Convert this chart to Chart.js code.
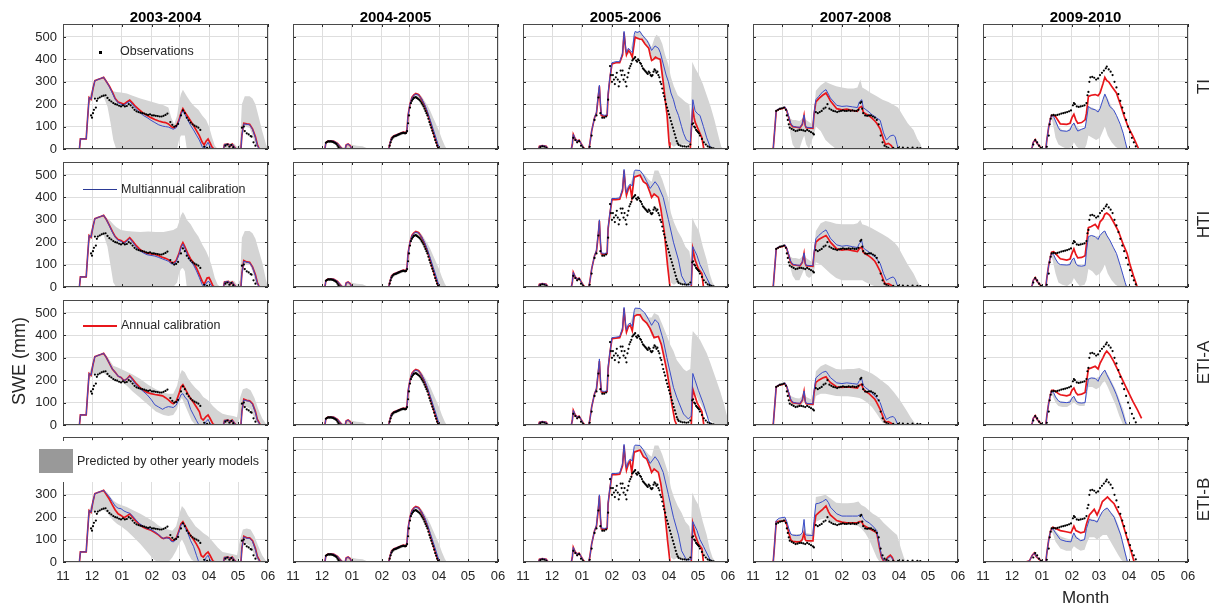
<!DOCTYPE html>
<html><head><meta charset="utf-8">
<script src="https://cdn.jsdelivr.net/npm/chart.js"></script>
<style>html,body{margin:0;padding:0;background:#fff}#wrap{position:relative;width:1220px;height:611px;overflow:hidden}</style>
</head><body><div id="wrap"></div>
<script>
// ---------- tick labels & categories ----------
var monthTicks = [0,30,61,92,120,151,181,212];
var monthLabels = ['11','12','01','02','03','04','05','06'];
var sweTicks = [0,100,200,300,400,500];
var seasons = ['2003-2004','2004-2005','2005-2006','2007-2008','2009-2010'];
var seasonKeys = ['0304','0405','0506','0708','0910'];
var models = ['TI','HTI','ETI-A','ETI-B'];
var modelKeys = ['ti','hti','etia','etib'];

// ---------- observations (day since 1 Nov, SWE mm) ----------
var obs_0304 = [[29,150],[30,140],[31,160],[32,175],[33,225],[34,185],[35,215],[36,225],[38,230],[40,235],[42,238],[44,240],[46,228],[48,218],[50,212],[52,205],[54,200],[56,198],[58,193],[60,190],[62,195],[64,190],[66,192],[68,200],[70,195],[72,185],[74,175],[76,168],[78,165],[80,162],[82,160],[84,158],[86,155],[88,152],[90,155],[92,150],[94,150],[96,148],[98,147],[100,145],[102,145],[104,148],[106,152],[108,158],[111,120],[113,108],[115,100],[117,103],[119,112],[122,150],[124,172],[126,160],[128,140],[130,128],[132,118],[134,110],[136,104],[138,100],[140,95],[142,85],[146,10],[149,5],[152,0],[168,15],[170,20],[172,10],[174,18],[176,8],[178,0],[185,95],[187,100],[188,80],[190,70],[192,65],[194,58],[195,55],[197,30],[199,15],[200,0]];
var obs_0405 = [[34,28],[35,31],[36,33],[37,34],[38,33],[39,34],[40,33],[41,32],[42,30],[43,28],[44,25],[45,22],[46,15],[47,8],[48,3],[49,0],[100,15],[101,30],[102,42],[103,50],[104,55],[105,57],[106,58],[107,60],[108,62],[109,64],[110,66],[111,68],[112,70],[113,71],[114,72],[115,71],[116,70],[117,72],[118,80],[119,115],[120,150],[121,185],[122,205],[123,215],[124,222],[125,228],[126,230],[127,232],[128,228],[129,225],[130,222],[131,218],[132,212],[133,205],[134,198],[135,190],[136,180],[137,170],[138,160],[139,150],[140,135],[141,120],[142,108],[143,95],[144,82],[145,70],[146,55],[147,40],[148,28],[149,15],[150,5],[151,0]];
var obs_0506 = [[16,0],[18,8],[20,12],[22,10],[24,5],[26,0],[52,50],[54,40],[56,30],[58,35],[60,15],[62,5],[69,10],[71,60],[74,130],[76,150],[78,230],[80,160],[82,140],[84,140],[86,145],[88,220],[90,370],[91,330],[92,300],[93,330],[94,310],[95,290],[96,320],[97,340],[98,310],[99,280],[100,300],[101,350],[102,330],[103,350],[104,310],[105,330],[106,300],[107,280],[108,320],[109,340],[110,360],[111,370],[112,380],[113,395],[114,400],[115,405],[116,410],[117,395],[118,390],[119,400],[120,395],[121,385],[122,380],[123,370],[124,360],[125,355],[126,350],[127,345],[128,340],[129,335],[130,345],[131,340],[132,330],[133,325],[134,330],[135,345],[136,355],[137,350],[138,340],[139,345],[140,330],[141,320],[142,300],[143,290],[144,270],[145,250],[146,235],[147,220],[148,200],[149,185],[150,170],[151,155],[152,140],[153,125],[154,110],[155,95],[156,80],[157,65],[158,50],[159,35],[160,25],[161,18],[163,15],[165,12],[167,12],[169,10],[171,12],[173,20],[175,110],[176,115],[177,100],[178,95],[179,85],[180,80],[181,75],[182,70],[183,60],[185,45],[187,30],[189,20],[191,12],[193,8],[195,5],[197,3],[199,0]];
var obs_0708 = [[24,170],[26,175],[28,180],[30,182],[32,185],[34,175],[35,150],[36,130],[37,110],[38,95],[40,90],[42,85],[44,80],[46,82],[48,85],[50,85],[52,83],[54,80],[56,85],[58,80],[60,75],[62,70],[63,65],[65,165],[67,160],[69,165],[71,170],[73,180],[75,185],[77,200],[79,180],[81,175],[83,170],[85,168],[87,165],[89,168],[91,170],[93,172],[95,170],[97,170],[99,172],[101,170],[103,172],[105,170],[107,170],[109,175],[111,205],[112,210],[113,180],[114,160],[116,150],[118,148],[120,150],[122,150],[124,145],[126,140],[128,130],[130,110],[132,60],[134,30],[136,15],[138,10],[140,5],[145,5],[150,5],[155,6],[160,5],[165,6],[170,5],[173,4],[175,0]];
var obs_0910 = [[50,0],[52,20],[54,40],[56,30],[58,15],[60,5],[62,0],[66,10],[68,60],[69,110],[70,135],[71,150],[73,152],[75,150],[77,152],[79,155],[81,158],[83,160],[85,162],[87,165],[89,168],[91,172],[93,195],[94,205],[95,200],[97,190],[99,188],[101,190],[103,192],[105,195],[107,205],[108,240],[109,255],[110,300],[111,320],[113,322],[115,318],[117,310],[119,315],[121,330],[123,340],[125,350],[127,360],[128,368],[130,355],[132,345],[134,330],[136,300],[138,275],[140,245],[142,215],[144,185],[146,160],[148,130],[150,100],[152,75],[154,50],[156,30],[158,12],[160,0]];

// ---------- 2003-2004 ----------
var ti_red_0304 = [[0,0],[17,0],[18,45],[24,45],[25,110],[27,230],[29,222],[31,270],[33,305],[36,310],[39,315],[42,320],[45,300],[48,280],[51,255],[54,225],[57,210],[60,205],[63,200],[66,210],[69,218],[72,205],[75,190],[79,175],[83,160],[87,150],[91,140],[95,132],[99,125],[103,120],[106,118],[109,112],[112,100],[114,95],[117,100],[120,130],[122,160],[124,180],[126,165],[129,145],[132,125],[135,105],[138,82],[141,60],[144,30],[146,18],[148,35],[150,45],[152,28],[154,10],[156,0],[166,0],[167,20],[171,22],[173,12],[175,22],[177,10],[179,0],[184,0],[185,60],[187,115],[190,112],[193,110],[196,90],[199,55],[201,20],[203,0],[212,0]];
var ti_blue_0304 = [[0,0],[17,0],[18,45],[24,45],[25,110],[27,230],[29,222],[31,270],[33,305],[36,310],[39,315],[42,320],[45,300],[48,278],[51,250],[54,222],[57,206],[60,200],[63,195],[66,205],[69,212],[72,198],[75,182],[79,165],[83,150],[87,140],[91,128],[95,118],[99,108],[103,102],[106,100],[109,98],[112,92],[114,88],[117,95],[120,125],[122,155],[124,172],[126,155],[129,130],[132,105],[135,85],[138,62],[141,40],[144,10],[146,0],[148,15],[150,30],[152,12],[154,0],[166,0],[167,20],[171,22],[173,12],[175,22],[177,10],[179,0],[184,0],[185,60],[187,112],[190,110],[193,108],[196,88],[199,50],[201,15],[203,0],[212,0]];
var ti_band_0304 = [[0,0,0],[17,0,0],[18,40,45],[24,40,48],[25,90,115],[27,200,232],[31,230,275],[36,230,312],[42,232,322],[46,190,300],[49,120,270],[52,40,258],[55,0,255],[60,0,252],[66,0,248],[72,0,238],[80,0,225],[88,0,215],[96,0,205],[104,0,195],[109,0,185],[112,0,140],[115,0,110],[118,0,150],[120,40,210],[122,60,245],[124,60,265],[126,60,250],[128,0,235],[132,0,210],[136,0,190],[140,0,175],[144,0,150],[148,0,130],[151,0,100],[154,0,55],[157,0,15],[160,0,0],[166,0,0],[167,0,25],[177,0,25],[180,0,10],[183,0,20],[185,60,200],[188,100,235],[193,95,235],[196,60,225],[199,20,200],[202,0,150],[206,0,80],[210,0,20],[212,0,0]];

var hti_red_0304 = [[0,0],[17,0],[18,45],[24,45],[25,110],[27,230],[29,222],[31,270],[33,305],[36,310],[39,315],[42,320],[45,300],[48,275],[51,248],[54,225],[57,212],[60,208],[63,198],[66,208],[69,220],[72,205],[75,188],[79,170],[83,158],[87,150],[91,148],[95,145],[99,140],[103,132],[106,128],[109,122],[112,110],[114,108],[117,118],[120,150],[122,180],[124,198],[126,180],[129,150],[132,125],[135,108],[138,85],[141,55],[144,25],[146,12],[149,40],[151,42],[153,25],[155,5],[157,0],[166,0],[167,22],[171,25],[173,12],[175,22],[177,10],[179,0],[184,0],[185,60],[187,118],[190,112],[193,110],[196,90],[199,55],[201,20],[203,0],[212,0]];
var hti_blue_0304 = [[0,0],[17,0],[18,45],[24,45],[25,110],[27,230],[29,222],[31,270],[33,305],[36,310],[39,315],[42,320],[45,300],[48,273],[51,245],[54,222],[57,208],[60,204],[63,194],[66,204],[69,216],[72,200],[75,182],[79,164],[83,152],[87,144],[91,141],[95,138],[99,132],[103,125],[106,120],[109,115],[112,104],[114,102],[117,112],[120,145],[122,175],[124,192],[126,172],[129,140],[132,115],[135,98],[138,72],[141,42],[144,10],[146,0],[149,22],[151,25],[153,8],[155,0],[166,0],[167,22],[171,25],[173,12],[175,22],[177,10],[179,0],[184,0],[185,60],[187,115],[190,110],[193,108],[196,88],[199,50],[201,15],[203,0],[212,0]];
var hti_band_0304 = [[0,0,0],[17,0,0],[18,40,45],[24,40,48],[25,90,115],[27,200,232],[31,230,275],[36,230,312],[42,232,322],[46,180,305],[49,100,295],[52,20,280],[55,0,268],[60,0,255],[66,0,250],[72,0,248],[80,0,245],[88,0,248],[96,0,245],[104,0,245],[109,0,250],[114,0,255],[118,20,265],[120,60,290],[122,80,320],[124,85,335],[126,70,320],[128,0,300],[132,0,280],[136,0,250],[140,0,225],[144,0,190],[148,0,160],[151,0,130],[154,0,90],[157,0,40],[160,0,10],[163,0,0],[166,0,0],[167,0,28],[177,0,28],[180,0,10],[183,0,30],[185,60,220],[188,100,250],[193,100,250],[196,70,240],[199,20,215],[202,0,170],[206,0,110],[210,0,30],[212,0,0]];

var etia_red_0304 = [[0,0],[17,0],[18,45],[24,45],[25,110],[27,230],[29,222],[31,270],[33,305],[36,310],[39,315],[42,320],[45,300],[48,275],[51,250],[54,235],[57,218],[60,212],[63,198],[66,205],[69,220],[72,205],[75,188],[79,170],[83,155],[87,145],[91,140],[95,136],[99,133],[103,130],[106,122],[109,112],[112,100],[114,95],[117,105],[120,140],[122,170],[124,180],[126,165],[129,140],[132,118],[135,100],[138,80],[141,60],[143,30],[145,22],[148,38],[150,45],[152,30],[155,5],[157,0],[166,0],[167,20],[171,22],[173,12],[175,22],[177,10],[179,0],[184,0],[185,60],[187,115],[190,110],[193,108],[196,95],[199,60],[201,25],[204,0],[212,0]];
var etia_blue_0304 = [[0,0],[17,0],[18,45],[24,45],[25,110],[27,230],[29,222],[31,270],[33,305],[36,310],[39,315],[42,320],[45,300],[48,275],[51,250],[54,235],[57,218],[60,212],[63,198],[66,205],[69,218],[72,200],[75,182],[79,165],[83,150],[87,135],[91,115],[95,90],[99,80],[103,70],[106,78],[109,82],[112,80],[114,78],[117,88],[120,115],[122,135],[124,140],[126,125],[129,110],[132,70],[135,45],[138,20],[140,5],[141,0],[146,0],[148,15],[150,25],[152,8],[154,0],[166,0],[167,20],[171,22],[173,12],[175,22],[177,10],[179,0],[184,0],[185,60],[187,112],[190,108],[193,106],[196,92],[199,55],[201,20],[204,0],[212,0]];
var etia_band_0304 = [[0,0,0],[17,0,0],[18,40,45],[24,40,48],[25,90,115],[27,200,232],[31,230,275],[36,230,312],[42,232,322],[46,220,305],[49,210,285],[52,205,265],[56,200,258],[60,195,250],[66,175,238],[72,150,225],[80,120,205],[88,90,180],[96,60,160],[104,45,145],[109,40,140],[114,45,140],[118,70,175],[120,100,215],[123,120,245],[126,90,235],[129,60,210],[133,20,185],[137,0,165],[141,0,150],[145,0,125],[150,0,110],[155,0,85],[160,0,65],[165,0,50],[170,0,45],[176,0,40],[180,0,35],[183,30,120],[186,80,160],[190,80,165],[194,70,155],[198,30,120],[202,0,70],[206,0,30],[210,0,5],[212,0,0]];

var etib_red_0304 = [[0,0],[17,0],[18,45],[24,45],[25,110],[27,230],[29,222],[31,270],[33,305],[36,310],[39,315],[42,320],[45,300],[48,280],[51,255],[54,232],[57,215],[60,208],[63,198],[66,205],[69,215],[72,200],[75,185],[79,168],[83,155],[87,148],[91,142],[95,132],[99,120],[102,108],[104,105],[107,110],[110,108],[112,98],[114,95],[117,105],[120,140],[122,170],[124,180],[126,165],[129,140],[132,118],[135,100],[138,80],[141,55],[143,28],[145,22],[148,38],[150,45],[152,30],[155,5],[157,0],[166,0],[167,20],[171,22],[173,12],[175,22],[177,10],[179,0],[184,0],[185,60],[187,115],[190,108],[193,108],[196,95],[199,60],[201,25],[204,0],[212,0]];
var etib_blue_0304 = [[0,0],[17,0],[18,45],[24,45],[25,110],[27,230],[29,222],[31,270],[33,305],[36,310],[39,315],[42,320],[45,305],[48,290],[51,270],[54,250],[57,240],[60,238],[63,228],[66,222],[69,218],[72,205],[75,190],[79,172],[83,160],[87,150],[91,145],[95,135],[99,122],[102,110],[104,105],[107,108],[110,105],[112,92],[114,90],[117,100],[120,135],[122,165],[124,175],[126,155],[129,130],[132,95],[135,70],[138,30],[140,5],[141,0],[146,0],[148,20],[150,30],[152,10],[154,0],[166,0],[167,20],[171,22],[173,12],[175,22],[177,10],[179,0],[184,0],[185,60],[187,112],[190,106],[193,106],[196,92],[199,55],[201,20],[204,0],[212,0]];
var etib_band_0304 = [[0,0,0],[17,0,0],[18,40,45],[24,40,48],[25,90,115],[27,200,232],[31,230,275],[36,230,312],[42,232,322],[46,220,310],[49,200,290],[52,185,275],[56,170,262],[60,160,255],[66,140,245],[72,115,232],[80,80,215],[88,40,195],[94,10,180],[98,0,165],[104,0,150],[109,0,145],[113,20,140],[117,50,160],[120,80,210],[123,100,250],[126,75,235],[129,40,210],[133,10,185],[137,0,160],[141,0,145],[145,0,130],[150,0,115],[155,0,90],[160,0,65],[165,0,45],[170,0,40],[176,0,35],[180,0,30],[183,20,100],[186,80,145],[190,80,150],[194,70,145],[198,30,115],[202,0,70],[206,0,30],[210,0,5],[212,0,0]];

// ---------- 2004-2005 (all four models nearly identical) ----------
var ti_red_0405 = [[0,0],[33,0],[34,28],[36,35],[42,35],[44,30],[46,25],[49,10],[51,0],[54,0],[55,18],[57,22],[59,15],[61,0],[99,0],[100,20],[102,50],[105,60],[108,65],[111,70],[114,75],[117,72],[118,90],[119,150],[121,200],[123,230],[125,242],[127,248],[130,242],[133,222],[136,195],[139,160],[142,118],[145,75],[148,35],[150,8],[151,0],[212,0]];
var ti_blue_0405 = [[0,0],[33,0],[34,28],[36,35],[42,35],[44,30],[46,25],[49,10],[51,0],[54,0],[55,18],[57,22],[59,15],[61,0],[99,0],[100,20],[102,50],[105,60],[108,65],[111,70],[114,75],[117,72],[118,90],[119,150],[121,200],[123,228],[125,240],[127,245],[130,240],[133,224],[136,200],[139,168],[142,128],[145,88],[148,48],[150,20],[152,0],[212,0]];
var ti_band_0405 = [[0,0,0],[33,0,0],[34,28,35],[42,30,38],[46,20,28],[50,0,10],[54,0,5],[56,0,22],[60,0,20],[66,0,15],[72,0,12],[76,0,5],[78,0,0],[99,0,0],[102,40,55],[108,55,70],[114,65,80],[117,65,80],[119,140,160],[121,190,210],[123,220,235],[127,230,250],[130,225,248],[133,205,235],[136,175,215],[139,140,195],[142,100,170],[145,60,140],[148,25,110],[151,0,80],[154,0,45],[157,0,15],[159,0,0],[212,0,0]];
var hti_red_0405 = ti_red_0405, hti_blue_0405 = ti_blue_0405, hti_band_0405 = ti_band_0405;
var etia_red_0405 = ti_red_0405, etia_blue_0405 = ti_blue_0405, etia_band_0405 = ti_band_0405;
var etib_red_0405 = ti_red_0405, etib_blue_0405 = ti_blue_0405, etib_band_0405 = ti_band_0405;

// ---------- 2005-2006 ----------
var ti_red_0506 = [[0,0],[16,0],[17,12],[20,15],[24,12],[26,0],[50,0],[51,20],[52,65],[54,45],[56,35],[58,40],[60,25],[62,10],[64,0],[68,0],[69,20],[71,80],[74,140],[76,160],[78,240],[79,280],[80,200],[81,150],[84,145],[87,150],[88,240],[90,320],[92,380],[96,385],[100,385],[103,420],[104.5,520],[106,450],[107,420],[109,440],[111,430],[113,410],[115,470],[116,500],[118,495],[121,490],[123,490],[126,470],[128,460],[130,450],[131.5,420],[133,395],[135,400],[137,410],[139,405],[142,400],[145,300],[147,220],[149,150],[151,30],[152,0],[173,0],[174,80],[175.6,180],[177,140],[178,120],[181,90],[185,50],[187,0],[212,0]];
var ti_blue_0506 = [[0,0],[16,0],[17,12],[20,15],[24,12],[26,0],[50,0],[51,20],[52,65],[54,45],[56,35],[58,40],[60,25],[62,10],[64,0],[68,0],[69,20],[71,80],[74,140],[76,165],[78,250],[79,285],[80,210],[81,155],[84,150],[87,152],[88,250],[90,325],[92,385],[96,390],[100,390],[103,430],[104.5,525],[106,460],[107,430],[109,450],[111,440],[113,430],[115,510],[116,525],[118,520],[121,525],[123,510],[126,495],[128,485],[130,470],[133,440],[136.6,460],[140,450],[142,430],[145,380],[148,330],[150.4,300],[153,250],[155.6,220],[158,180],[160.8,150],[164,100],[166,70],[169,40],[173,30],[174.6,120],[175.6,220],[178,170],[181,155],[183,150],[186.6,100],[190,50],[193.5,10],[197,0],[212,0]];
var ti_band_0506 = [[0,0,0],[16,0,0],[17,10,15],[24,10,15],[26,0,0],[50,0,0],[51,20,20],[52,60,65],[54,40,45],[58,35,40],[62,10,10],[64,0,0],[68,0,0],[69,20,20],[74,140,140],[79,280,285],[81,150,155],[87,150,152],[90,320,325],[92,380,385],[100,385,390],[104.5,520,525],[107,420,430],[111,430,440],[116,500,525],[121,490,525],[126,470,500],[130,450,480],[133,395,455],[136,400,495],[138,410,510],[141,400,500],[144,300,470],[147,220,420],[150,100,380],[153,20,320],[156,10,280],[160,20,240],[164,20,225],[168,20,210],[172,20,200],[173.5,20,120],[175,130,390],[178,110,360],[182,80,330],[186,30,290],[190,10,240],[194,0,190],[198,0,130],[202,0,60],[205,0,10],[207,0,0],[212,0,0]];

var hti_red_0506 = [[0,0],[16,0],[17,12],[20,15],[24,12],[26,0],[50,0],[51,20],[52,65],[54,45],[56,35],[58,40],[60,25],[62,10],[64,0],[68,0],[69,20],[71,80],[74,140],[76,160],[78,240],[79,295],[80,200],[81,148],[84,145],[87,150],[88,260],[90,330],[92,390],[96,390],[100,392],[103,430],[104.5,520],[106,440],[107,410],[109,440],[110.7,450],[112.5,400],[115,490],[118,495],[121,500],[124.5,470],[128,460],[131.5,420],[133,400],[135.6,415],[140,400],[142.5,350],[146,250],[149.4,100],[152,0],[174,0],[175.6,170],[178,120],[181.5,80],[185,60],[186.6,0],[212,0]];
var hti_blue_0506 = [[0,0],[16,0],[17,12],[20,15],[24,12],[26,0],[50,0],[51,20],[52,65],[54,45],[56,35],[58,40],[60,25],[62,10],[64,0],[68,0],[69,20],[71,80],[74,140],[76,165],[78,250],[79,300],[80,210],[81,152],[84,150],[87,152],[88,265],[90,335],[92,395],[96,395],[100,398],[103,440],[104.5,525],[106,450],[107,420],[109,450],[111,460],[113,450],[115,515],[116,522],[121,520],[124.5,500],[128,470],[131.5,440],[136.6,470],[140,450],[145,400],[150.4,300],[155.6,200],[160.8,120],[164,50],[169,10],[174,10],[175.6,180],[180,140],[183,100],[186.6,70],[190,40],[193.5,10],[197,0],[212,0]];
var hti_band_0506 = [[0,0,0],[16,0,0],[17,10,15],[24,10,15],[26,0,0],[50,0,0],[51,20,20],[52,60,65],[54,40,45],[58,35,40],[62,10,10],[64,0,0],[68,0,0],[69,20,20],[74,140,140],[79,290,300],[81,148,152],[87,150,152],[90,330,335],[92,390,395],[100,392,398],[104.5,520,525],[107,410,420],[111,440,460],[116,495,522],[121,500,520],[126,465,500],[130,440,480],[133,400,470],[136,410,520],[140,400,520],[144,330,480],[147,240,440],[150,100,400],[153,20,330],[156,10,290],[160,20,250],[164,20,220],[168,15,180],[172,15,160],[173.5,20,120],[175,140,310],[178,110,280],[182,80,250],[186,40,180],[190,10,120],[193,0,60],[196,0,20],[199,0,0],[212,0,0]];

var etia_red_0506 = [[0,0],[16,0],[17,12],[20,15],[24,12],[26,0],[50,0],[51,20],[52,65],[54,45],[56,35],[58,40],[60,25],[62,10],[64,0],[68,0],[69,20],[71,80],[74,140],[76,160],[78,240],[79,285],[80,200],[81,148],[84,145],[87,150],[88,250],[90,325],[92,385],[96,388],[100,390],[103,425],[104.5,520],[106,445],[107,415],[109,440],[111,445],[113,420],[115,485],[118,492],[121,492],[124,470],[128,455],[131.5,430],[135.6,390],[140,395],[143,360],[146,300],[148.7,243],[152,160],[153.9,94],[157,20],[159,0],[174,0],[175.6,160],[180,100],[185,60],[187,0],[212,0]];
var etia_blue_0506 = [[0,0],[16,0],[17,12],[20,15],[24,12],[26,0],[50,0],[51,20],[52,65],[54,45],[56,35],[58,40],[60,25],[62,10],[64,0],[68,0],[69,20],[71,80],[74,140],[76,165],[78,250],[79,295],[80,210],[81,152],[84,150],[87,152],[88,260],[90,330],[92,390],[96,392],[100,395],[103,435],[104.5,525],[106,455],[107,425],[109,450],[111,455],[113,440],[115,510],[116,522],[121,520],[126,500],[130,470],[133,445],[136.6,470],[140,455],[145,380],[148.7,302],[155.6,168],[159,124],[166,49],[171,27],[174,40],[175.6,230],[181.5,153],[186.6,94],[192,19],[195,0],[212,0]];
var etia_band_0506 = [[0,0,0],[16,0,0],[17,10,15],[24,10,15],[26,0,0],[50,0,0],[51,20,20],[52,60,65],[54,40,45],[58,35,40],[62,10,10],[64,0,0],[68,0,0],[69,20,20],[74,140,140],[79,285,295],[81,148,152],[87,150,152],[90,325,330],[92,385,390],[100,390,395],[104.5,520,525],[107,415,425],[111,445,455],[116,490,522],[121,492,520],[126,460,500],[130,435,480],[133,400,480],[135.6,390,500],[140,395,490],[144,340,450],[148.7,243,400],[152,150,360],[155.6,90,330],[159,20,290],[162.5,20,270],[166,20,250],[169,20,240],[173,25,250],[174.6,60,380],[175.6,160,420],[183,100,380],[190,40,320],[193.5,20,280],[200,0,200],[204,0,150],[208,0,90],[211,0,40],[212,0,30]];
var etib_red_0506 = hti_red_0506, etib_blue_0506 = hti_blue_0506, etib_band_0506 = hti_band_0506;

// ---------- 2007-2008 ----------
var ti_red_0708 = [[0,0],[20,0],[21,5],[22,60],[24,170],[27,178],[30,180],[33,185],[35,170],[37,140],[39,110],[41,100],[45,97],[48.6,95],[51,110],[52.8,150],[54,105],[55,95],[62,92],[63,150],[65,210],[68,225],[72,240],[75.5,250],[78,232],[80,215],[86.6,180],[92,175],[97,178],[103,172],[108,168],[110,185],[112.5,190],[114,165],[116,158],[120,148],[123,138],[126,125],[128,115],[131.5,90],[135,42],[137,20],[140,25],[143,15],[145,0],[212,0]];
var ti_blue_0708 = [[0,0],[20,0],[21,5],[22,60],[24,172],[27,180],[30,182],[33,188],[35,172],[37,145],[39,115],[41,102],[45,98],[48.6,97],[51,112],[52.8,152],[54,108],[55,97],[62,95],[63,155],[65,220],[68,235],[72,255],[75.5,265],[78,245],[80,228],[86.6,195],[92,190],[97,192],[103,188],[108,185],[110,210],[112.5,220],[114,185],[116,178],[120,165],[123,153],[126,145],[128,138],[131.5,128],[135,72],[138,40],[141.8,58],[145,62],[147,55],[149,20],[150.4,0],[212,0]];
var ti_band_0708 = [[0,0,0],[20,0,0],[21,5,5],[22,60,60],[24,170,172],[33,185,188],[35,160,175],[37,120,150],[39,60,135],[41,20,130],[44,0,130],[48,0,125],[51,40,135],[53,60,150],[55,20,130],[58,0,120],[61,40,110],[63,60,150],[65,100,260],[70,80,285],[75,40,300],[80,20,290],[86,0,280],[92,0,275],[98,0,270],[104,0,270],[108,0,275],[111,0,310],[113,0,275],[117,0,265],[122,0,250],[128,0,235],[134,0,220],[140,0,210],[146,0,195],[150,0,185],[155,0,150],[160,0,115],[166,0,85],[170,0,45],[173,0,25],[175,0,0],[212,0,0]];

var hti_red_0708 = [[0,0],[20,0],[21,5],[22,60],[24,170],[27,178],[30,180],[33,185],[35,170],[37,140],[39,110],[41,100],[45,97],[48.6,95],[51,110],[52.8,150],[54,105],[55,95],[62,92],[63,145],[65,200],[68,212],[72,222],[75.5,230],[78,215],[80,200],[86.6,170],[92,165],[97,168],[103,162],[108,158],[110,172],[112.5,178],[114,155],[116,148],[120,138],[123,128],[126,115],[128,100],[131.5,70],[135,30],[137,12],[140,15],[143,8],[145,0],[212,0]];
var hti_blue_0708 = [[0,0],[20,0],[21,5],[22,60],[24,172],[27,180],[30,182],[33,188],[35,172],[37,145],[39,115],[41,102],[45,98],[48.6,97],[51,112],[52.8,152],[54,108],[55,97],[62,95],[63,150],[65,215],[68,230],[72,245],[75.5,255],[78,235],[80,218],[86.6,188],[92,182],[97,185],[103,180],[108,176],[110,195],[112.5,205],[114,175],[116,168],[120,156],[123,145],[126,135],[128,125],[131.5,105],[135,60],[138,30],[141.8,40],[145,45],[147,35],[149,10],[150.4,0],[212,0]];
var hti_band_0708 = [[0,0,0],[20,0,0],[21,5,5],[22,60,60],[24,170,172],[33,185,188],[35,160,175],[37,120,150],[39,80,135],[41,50,130],[44,30,130],[48,30,125],[51,60,135],[53,80,150],[55,50,130],[58,40,120],[61,50,110],[63,70,150],[65,110,250],[70,100,285],[75,80,295],[80,60,290],[86,40,282],[92,30,280],[98,30,280],[104,30,280],[108,30,285],[111,30,300],[113,30,280],[117,20,275],[122,10,265],[128,0,250],[134,0,235],[140,0,220],[146,0,200],[150,0,180],[155,0,140],[160,0,100],[166,0,60],[170,0,25],[173,0,5],[175,0,0],[212,0,0]];

var etia_red_0708 = [[0,0],[20,0],[21,5],[22,60],[24,170],[27,178],[30,180],[33,185],[35,170],[37,140],[39,110],[41,100],[45,97],[48.6,95],[51,110],[52.8,150],[54,105],[55,95],[62,92],[63,140],[65,190],[68,200],[72,210],[75.5,215],[78,200],[80,190],[86.6,170],[92,168],[97,170],[103,168],[108,165],[110,178],[112.5,182],[114,160],[116,150],[120,140],[123,128],[126,115],[128,100],[131.5,70],[135,30],[137,12],[140,15],[143,8],[145,0],[212,0]];
var etia_blue_0708 = [[0,0],[20,0],[21,5],[22,60],[24,172],[27,180],[30,182],[33,188],[35,172],[37,145],[39,115],[41,102],[45,98],[48.6,97],[51,112],[52.8,152],[54,108],[55,97],[62,95],[63,150],[65,210],[68,222],[72,235],[75.5,240],[78,225],[80,212],[86.6,188],[92,185],[97,188],[103,185],[108,182],[110,198],[112.5,205],[114,178],[116,168],[120,155],[123,142],[126,130],[128,120],[131.5,100],[135,55],[138,25],[141.8,35],[145,38],[147,28],[149,8],[150.4,0],[212,0]];
var etia_band_0708 = [[0,0,0],[20,0,0],[21,5,5],[22,60,60],[24,170,172],[33,185,188],[35,160,175],[37,120,150],[39,90,130],[44,80,120],[48,80,118],[51,95,130],[53,110,150],[55,90,125],[60,80,115],[63,90,150],[65,130,240],[70,140,262],[75,140,272],[80,135,262],[86,130,250],[92,128,248],[98,128,250],[104,125,250],[110,120,255],[113,115,248],[118,100,240],[123,80,230],[128,50,215],[134,10,195],[140,0,175],[146,0,145],[152,0,110],[158,0,70],[163,0,35],[167,0,10],[169,0,0],[212,0,0]];

var etib_red_0708 = [[0,0],[20,0],[21,5],[22,60],[24,180],[27,182],[30,183],[33,185],[35,165],[37,130],[39,100],[41,92],[45,90],[48.6,90],[51,100],[52.8,130],[54,100],[55,95],[62,94],[63,150],[65,208],[68,220],[72,235],[75.5,250],[78,225],[80,210],[86.6,185],[92,178],[97,175],[103,175],[108,175],[110,180],[112.5,180],[114,165],[116,160],[120,150],[124,140],[128,130],[131,60],[133,20],[135,5],[137,0],[139,20],[142,30],[144,20],[146,0],[212,0]];
var etib_blue_0708 = [[0,0],[20,0],[21,5],[22,60],[24,185],[27,195],[30,198],[33,200],[35,180],[37,150],[39,125],[41,120],[45,118],[48.6,120],[51,130],[52.8,190],[54,125],[55,120],[62,118],[63,180],[65,260],[68,262],[72,270],[75.5,280],[78,265],[80,245],[86.6,215],[92,205],[97,205],[103,205],[108,205],[110,210],[112.5,210],[114,195],[116,185],[120,175],[124,160],[128,140],[131,70],[133,25],[135,8],[137,0],[139,15],[142,25],[144,15],[146,0],[212,0]];
var etib_band_0708 = [[0,0,0],[20,0,0],[21,5,5],[22,60,60],[24,180,185],[33,185,200],[35,165,180],[37,130,150],[39,100,130],[41,85,125],[45,80,125],[49,80,125],[51,90,135],[53,110,190],[55,90,130],[60,85,125],[63,100,180],[65,180,290],[70,190,295],[75,195,300],[80,180,285],[86,175,265],[92,170,262],[98,168,262],[104,165,265],[109,160,270],[112,150,255],[116,130,245],[120,100,230],[124,60,215],[128,20,205],[131,0,195],[135,0,175],[140,0,155],[145,0,135],[149,0,120],[153,0,60],[156,0,20],[158,0,0],[212,0,0]];

// ---------- 2009-2010 ----------
var ti_red_0910 = [[0,0],[50,0],[51,10],[52,30],[54,42],[56,25],[58,15],[60,5],[61,0],[65,0],[66,40],[68,100],[70,140],[71,150],[73,150],[75,145],[78,125],[80,112],[86.6,110],[90,115],[92,140],[94,155],[96,130],[98,115],[102,118],[105.6,130],[107,160],[109,235],[112,240],[116,243],[119,238],[121,250],[124,290],[126,320],[128,305],[130,300],[133,280],[138,250],[142,200],[146,146],[150,100],[155,57],[160,10],[161,0],[212,0]];
var ti_blue_0910 = [[0,0],[50,0],[51,10],[52,30],[54,42],[56,25],[58,15],[60,5],[61,0],[65,0],[66,40],[68,100],[70,140],[71,150],[73,145],[75,125],[78,95],[80,82],[86.6,79],[90,85],[92,105],[94,116],[96,95],[98,80],[102,88],[105.6,94],[107,130],[109,190],[112,180],[116,175],[119,165],[121,180],[124,220],[126,245],[128,225],[131,190],[135,175],[138,150],[142,110],[145,70],[147,35],[149,0],[212,0]];
var ti_band_0910 = [[0,0,0],[65,0,0],[66,40,40],[70,140,150],[72,120,150],[75,50,130],[78,20,100],[82,10,85],[87,0,82],[92,10,105],[94,30,120],[97,10,100],[100,0,88],[105,0,95],[107,20,130],[109,60,190],[113,50,185],[117,40,175],[121,50,180],[124,80,220],[126,100,250],[129,60,225],[133,30,190],[137,10,160],[141,0,120],[145,0,75],[148,0,20],[150,0,0],[212,0,0]];

var hti_red_0910 = [[0,0],[50,0],[51,10],[52,30],[54,42],[56,25],[58,15],[60,5],[61,0],[65,0],[66,40],[68,100],[70,140],[71,155],[73,158],[75,150],[78,135],[80,126],[86.6,120],[90,125],[92,150],[94,170],[96,145],[98,130],[102,132],[105.6,140],[107,190],[109,265],[112,270],[116,280],[119,262],[121,290],[124,305],[126,325],[128,330],[131,320],[135,290],[140,250],[145,190],[149,150],[152,100],[155.6,50],[158,20],[159.5,0],[212,0]];
var hti_blue_0910 = [[0,0],[50,0],[51,10],[52,30],[54,42],[56,25],[58,15],[60,5],[61,0],[65,0],[66,40],[68,100],[70,140],[71,150],[73,145],[75,125],[78,105],[80,100],[86.6,98],[90,100],[92,120],[94,130],[96,105],[98,95],[102,93],[105.6,96],[107,160],[109,225],[112,230],[116,225],[119,212],[121,230],[124,245],[126,250],[128,230],[131,210],[135,175],[138,150],[142,95],[145,50],[147,20],[148.5,0],[212,0]];
var hti_band_0910 = [[0,0,0],[65,0,0],[66,40,40],[70,140,140],[72,120,150],[75,60,130],[78,20,105],[82,10,100],[87,5,98],[92,20,120],[94,40,130],[97,20,105],[100,5,95],[105,10,96],[107,30,160],[109,80,225],[113,70,230],[117,50,225],[121,60,230],[124,80,245],[126,100,250],[129,60,230],[133,30,190],[137,10,160],[141,0,110],[145,0,55],[148,0,10],[150,0,0],[212,0,0]];

var etia_red_0910 = [[0,0],[50,0],[51,10],[52,30],[54,42],[56,25],[58,15],[60,5],[61,0],[65,0],[66,40],[68,100],[70,140],[71,155],[73,155],[75,150],[78,140],[80,135],[86.6,130],[90,135],[92,155],[94,165],[96,145],[98,135],[102,138],[105.6,145],[107,190],[109,250],[112,255],[116,262],[119,250],[121,275],[124,300],[126,318],[128,330],[131,315],[135,285],[140,240],[145,195],[150,150],[155,105],[160,65],[164,30]];
var etia_blue_0910 = [[0,0],[50,0],[51,10],[52,30],[54,42],[56,25],[58,15],[60,5],[61,0],[65,0],[66,40],[68,100],[70,140],[71,150],[73,145],[75,125],[78,108],[80,102],[86.6,100],[90,102],[92,120],[94,128],[96,108],[98,100],[102,98],[105.6,100],[107,150],[109,205],[112,210],[116,208],[119,195],[121,215],[124,235],[126,245],[128,225],[131,200],[135,165],[138,135],[142,85],[145,45],[147,15],[148.5,0],[212,0]];
var etia_band_0910 = [[0,0,0],[65,0,0],[66,40,40],[70,140,140],[72,130,150],[75,100,130],[78,85,110],[82,80,105],[87,80,102],[92,95,122],[94,100,130],[97,90,110],[100,85,100],[105,85,102],[107,120,150],[109,170,210],[113,170,212],[117,160,210],[121,170,218],[124,190,238],[126,195,248],[129,170,228],[133,130,195],[137,90,160],[141,40,115],[145,0,70],[148,0,20],[150,0,0],[212,0,0]];

var etib_red_0910 = [[0,0],[44,0],[48,5],[51,30],[53,40],[55,25],[58,12],[61,3],[63,0],[65,0],[66,40],[68,100],[70,140],[72,155],[75,150],[80,140],[86,135],[91,130],[93,150],[94,160],[96,140],[101,130],[105,135],[107,170],[110,210],[113,225],[115,235],[118,210],[121,240],[123.5,270],[126,280],[128.7,290],[132,275],[135.6,260],[142.5,200],[149.4,100],[153,50],[156.3,0],[212,0]];
var etib_blue_0910 = [[0,0],[44,0],[48,5],[51,30],[53,40],[55,25],[58,12],[61,3],[63,0],[65,0],[66,40],[68,100],[70,140],[72,150],[75,130],[80,100],[86,92],[91,90],[93,120],[94,130],[96,110],[101,95],[105,100],[107,150],[110,190],[113,185],[115,185],[118,178],[121,205],[123.5,225],[126,235],[128.7,240],[132,220],[135.6,200],[142.5,120],[147,40],[149.4,0],[212,0]];
var etib_band_0910 = [[0,0,0],[65,0,0],[66,40,40],[70,140,140],[72,130,155],[75,90,140],[80,60,115],[86,50,105],[91,50,100],[94,70,130],[97,60,115],[101,50,100],[105,55,105],[107,80,150],[110,110,195],[115,110,190],[118,100,185],[121,110,210],[124,120,230],[128,120,245],[132,90,225],[136,60,205],[140,30,165],[143,10,120],[146,0,70],[149,0,15],[150,0,0],[212,0,0]];

// ---------- drawing ----------
var FONT = "'Liberation Sans', Arial, Helvetica, sans-serif";
var colLeft = [63,293,523,753,983];
var rowTop = [24,162,300,437];
var PW = 205, PH = 125, PADL = 60, PADT = 24, CW = 305, CH = 194;
var RED = '#e8161b', BLUE = '#3a4dc9', BAND = '#d4d4d4', GRID = '#dedede', AX = '#262626', BOX = '#4a4a4a';

function pts(a){ return a.map(function(p){ return {x:p[0], y:p[1]}; }); }
function seg(ctx,x1,y1,x2,y2){ ctx.beginPath(); ctx.moveTo(x1,y1); ctx.lineTo(x2,y2); ctx.stroke(); }

var wrap = document.getElementById('wrap');
seasons.forEach(function(season, c){
  models.forEach(function(model, r){
    var mk = modelKeys[r], sk = seasonKeys[c];
    var red = window[mk+'_red_'+sk], blue = window[mk+'_blue_'+sk], band = window[mk+'_band_'+sk], obs = window['obs_'+sk];
    var cv = document.createElement('canvas');
    cv.width = CW; cv.height = CH;
    cv.style.cssText = 'position:absolute;left:'+(colLeft[c]-PADL)+'px;top:'+(rowTop[r]-PADT)+'px;width:'+CW+'px;height:'+CH+'px';
    wrap.appendChild(cv);

    var deco = {
      id: 'deco'+r+c,
      afterDraw: function(chart){
        var ctx = chart.ctx, a = chart.chartArea, xs = chart.scales.x, ys = chart.scales.y;
        ctx.save();
        ctx.strokeStyle = AX; ctx.lineWidth = 1;
        monthTicks.forEach(function(v){ var px = Math.round(xs.getPixelForValue(v))+0.5; seg(ctx,px,a.bottom,px,a.bottom-3); seg(ctx,px,a.top,px,a.top+3); });
        sweTicks.forEach(function(v){ var py = Math.round(ys.getPixelForValue(v))+0.5; seg(ctx,a.left,py,a.left+3,py); seg(ctx,a.right,py,a.right-3,py); });
        ctx.strokeStyle = BOX;
        ctx.strokeRect(a.left+0.5, a.top+0.5, a.right-a.left-1, a.bottom-a.top-1);
        ctx.fillStyle = '#000';
        if (r === 0) {
          ctx.font = 'bold 15px '+FONT; ctx.textAlign = 'center'; ctx.textBaseline = 'middle';
          ctx.fillText(season, (a.left+a.right)/2, a.top-6);
        }
        if (c === 4) {
          ctx.save(); ctx.translate(1204-(colLeft[c]-PADL), (a.top+a.bottom)/2); ctx.rotate(-Math.PI/2);
          ctx.font = '17px '+FONT; ctx.textAlign = 'center'; ctx.textBaseline = 'middle'; ctx.fillStyle = AX;
          ctx.fillText(model, 0, 0); ctx.restore();
        }
        if (c === 4 && r === 3) {
          ctx.font = '17px '+FONT; ctx.textAlign = 'center'; ctx.textBaseline = 'middle'; ctx.fillStyle = AX;
          ctx.fillText('Month', (a.left+a.right)/2, a.bottom+36);
        }
        if (c === 0) {
          ctx.font = '12.5px '+FONT; ctx.textAlign = 'left'; ctx.textBaseline = 'middle'; ctx.fillStyle = AX;
          if (r === 0) {
            ctx.fillStyle = '#000'; ctx.fillRect(a.left+36, a.top+27, 3, 3);
            ctx.fillStyle = AX; ctx.fillText('Observations', a.left+57, a.top+28);
          } else if (r === 1) {
            ctx.strokeStyle = '#2b3a96'; ctx.lineWidth = 1; seg(ctx, a.left+20, a.top+27.5, a.left+54, a.top+27.5);
            ctx.fillText('Multiannual calibration', a.left+58, a.top+27.5);
          } else if (r === 2) {
            ctx.strokeStyle = RED; ctx.lineWidth = 2; seg(ctx, a.left+20, a.top+26, a.left+54, a.top+26);
            ctx.fillText('Annual calibration', a.left+58, a.top+26);
          } else if (r === 3) {
            ctx.fillStyle = '#fff'; ctx.fillRect(a.left-32, a.top+4, 230, 41);
            ctx.fillStyle = '#999999'; ctx.fillRect(a.left-24, a.top+12, 34, 24);
            ctx.fillStyle = AX; ctx.fillText('Predicted by other yearly models', a.left+14, a.top+25);
          }
        }
        if (c === 0 && r === 2) {
          ctx.save(); ctx.translate(20.5-(colLeft[0]-PADL), 361-(rowTop[2]-PADT)); ctx.rotate(-Math.PI/2);
          ctx.font = '18px '+FONT; ctx.textAlign = 'center'; ctx.textBaseline = 'middle'; ctx.fillStyle = AX;
          ctx.fillText('SWE (mm)', 0, 0); ctx.restore();
        }
        ctx.restore();
      }
    };

    new Chart(cv, {
      type: 'line',
      data: { datasets: [
        { data: pts(band.map(function(b){return [b[0], b[2]];})), fill: '+1', backgroundColor: BAND, borderWidth: 0, pointRadius: 0, order: 4 },
        { data: pts(band.map(function(b){return [b[0], b[1]];})), fill: false, borderWidth: 0, borderColor: 'rgba(0,0,0,0)', pointRadius: 0, order: 5 },
        { data: pts(red), borderColor: RED, borderWidth: 1.7, pointRadius: 0, fill: false, order: 2 },
        { data: pts(blue), borderColor: BLUE, borderWidth: 1, pointRadius: 0, fill: false, order: 1 },
        { data: pts(obs), showLine: false, pointRadius: 1.1, pointBackgroundColor: '#000', pointBorderWidth: 0, order: 0 }
      ]},
      options: {
        responsive: false, animation: false, devicePixelRatio: 1,
        layout: { padding: { left: 0, top: PADT, right: CW-PADL-PW, bottom: 0 } },
        elements: { line: { tension: 0 } },
        plugins: { legend: { display: false }, tooltip: { enabled: false } },
        events: [],
        scales: {
          x: { type: 'linear', min: 0, max: 212,
               afterBuildTicks: function(s){ s.ticks = monthTicks.map(function(v){ return {value: v}; }); },
               afterFit: function(s){ s.height = CH-PADT-PH; },
               grid: { color: GRID, drawTicks: false },
               border: { display: false },
               ticks: { display: r === 3, autoSkip: false, maxRotation: 0, padding: 7, color: AX,
                        font: { family: FONT, size: 13 },
                        callback: function(v){ var i = monthTicks.indexOf(v); return i >= 0 ? monthLabels[i] : ''; } } },
          y: { type: 'linear', min: 0, max: 558,
               afterBuildTicks: function(s){ s.ticks = sweTicks.map(function(v){ return {value: v}; }); },
               afterFit: function(s){ s.width = PADL; },
               grid: { color: GRID, drawTicks: false },
               border: { display: false },
               ticks: { display: c === 0, autoSkip: false, padding: 6, color: AX,
                        font: { family: FONT, size: 13 },
                        callback: function(v){ return String(v); } } }
        }
      },
      plugins: [deco]
    });
  });
});
</script>
</body></html>
